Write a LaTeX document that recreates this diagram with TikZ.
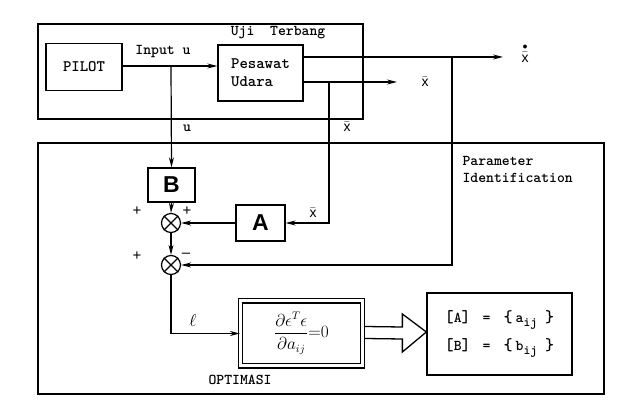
\documentclass[tikz,border=0pt]{standalone}
\usepackage{amsmath}
\usepackage{fontspec}
\setsansfont{Liberation Sans}
\usetikzlibrary{arrows.meta,calc}
\newcommand{\mysub}[1]{\raisebox{-4pt}{\fontsize{13}{13}\selectfont #1}}
\begin{document}
\begin{tikzpicture}[x=1pt,y=-1pt,
  line width=1.2pt,
  arr/.style={-{Stealth[length=10pt,width=5pt]}},
  blk/.style={draw,line width=1.3pt,inner sep=0pt,font=\ttfamily\bfseries\fontsize{16}{18}\selectfont},
  bigbox/.style={draw,line width=2pt,inner sep=0pt,anchor=north west},
  mat/.style={draw,line width=1.3pt,inner sep=0pt,font=\sffamily\bfseries\fontsize{23}{24}\selectfont},
  sumj/.style={draw,circle,line width=1.2pt,minimum size=19pt,inner sep=0pt},
  lbl/.style={font=\ttfamily\bfseries\fontsize{15}{17}\selectfont,inner sep=0pt},
  xl/.style={inner sep=0pt,font=\sffamily\fontsize{14}{14}\selectfont},
  sgn/.style={font=\sffamily\fontsize{15}{15}\selectfont,inner sep=0pt}]
\useasboundingbox (0,0) rectangle (637,419);

% frames
\node[bigbox,minimum width=325pt,minimum height=95pt] (uji) at (37,23) {};
\node[bigbox,minimum width=566pt,minimum height=251pt] (pid) at (37,142) {};

% blocks
\node[blk,minimum width=76pt,minimum height=47pt] (pilot) at (84,67) {PILOT};
\node[blk,minimum width=85pt,minimum height=56pt,align=left] (pes) at (260.5,73) {Pesawat\\Udara};
\node[mat,minimum width=47pt,minimum height=34pt] (B) at (171.5,185) {B};
\node[mat,minimum width=49pt,minimum height=36pt] (A) at (260.5,223) {A};
\node[sumj] (s1) at (171,223) {};
\node[sumj] (s2) at (171,265) {};
\foreach \s in {s1,s2}{
  \draw[line width=1.1pt] (\s.north west) -- (\s.south east) (\s.north east) -- (\s.south west);
}
\node[draw,double,double distance=3pt,line width=1.1pt,minimum width=122pt,minimum height=65pt,inner sep=0pt,
  font=\fontsize{16}{18}\selectfont] (opt) at (301.5,333.5)
  {$\displaystyle\frac{\partial\epsilon^{T}\epsilon}{\partial a_{ij}}{=}0$};
\node[draw,line width=1.3pt,minimum width=145pt,minimum height=82pt,inner sep=0pt,align=left,
  font=\ttfamily\bfseries\fontsize{15}{28}\selectfont] (res) at (499.5,334)
  {{\LARGE[}A{\LARGE]}\hspace{12pt}=\hspace{13pt}{\LARGE\{}\hspace{3pt}a\mysub{ij}\hspace{8pt}{\LARGE\}}\\
   {\LARGE[}B{\LARGE]}\hspace{12pt}=\hspace{13pt}{\LARGE\{}\hspace{3pt}b\mysub{ij}\hspace{8pt}{\LARGE\}}};

% coordinates
\coordinate (inp) at (171,66);
\coordinate (o1) at (503,57);
\coordinate (o2) at (397,82);
\coordinate (t1) at (452,57);
\coordinate (t2) at (329,82);

% connectors
\draw[arr] (pilot.east |- inp) -- (pes.west |- inp);
\draw[arr] (inp) -- (B.north);
\draw[arr] (pes.east |- o1) -- (o1);
\draw[arr] (pes.east |- o2) -- (o2);
\draw[arr] (t2) |- (A.east);
\draw[arr] (t1) |- (s2.east);
\draw[arr] (A.west) -- (s1.east);
\draw[arr] (B.south) -- (s1.north);
\draw[arr] (s1.south) -- (s2.north);
\draw[arr] (s2.south) |- (opt.west);

% hollow arrow
\draw[line width=1.3pt,line join=miter,fill=white]
  ($(opt.east)+(2,-7)$) -- ($(res.west)+(-24,-7)$) -- ($(res.west)+(-24,-20)$) -- ($(res.west)+(0,-2)$)
  -- ($(res.west)+(-24,18)$) -- ($(res.west)+(-24,5)$) -- ($(opt.east)+(2,5)$);

% labels
\node[lbl] (tin) at (163,52) {Input u};
\node[lbl] (tu) at (187,128) {u};
\node[lbl] (tuji) at (278,33) {Uji\ \ Terbang};
\node[xl] (xd) at (525,53) {$\overset{\bullet}{\bar{\mbox{x}}}$};
\node[xl] (xb1) at (425,82) {$\bar{\mbox{x}}$};
\node[xl] (xb2) at (347,127) {$\bar{\mbox{x}}$};
\node[xl] (xb3) at (313,213) {$\bar{\mbox{x}}$};
\node[lbl,anchor=west,align=left] (tpid) at (462,169) {Parameter\\Identification};
\node[sgn] (p1) at (137,211) {+};
\node[sgn] (p2) at (187,211) {+};
\node[sgn] (p3) at (137,256) {+};
\node[sgn] (m1) at (186,255) {--};
\node[inner sep=0pt,font=\fontsize{16}{16}\selectfont] (eps) at (193,321) {$\ell$};
\node[lbl] (topt) at (240,380) {OPTIMASI};
\end{tikzpicture}
\end{document}
